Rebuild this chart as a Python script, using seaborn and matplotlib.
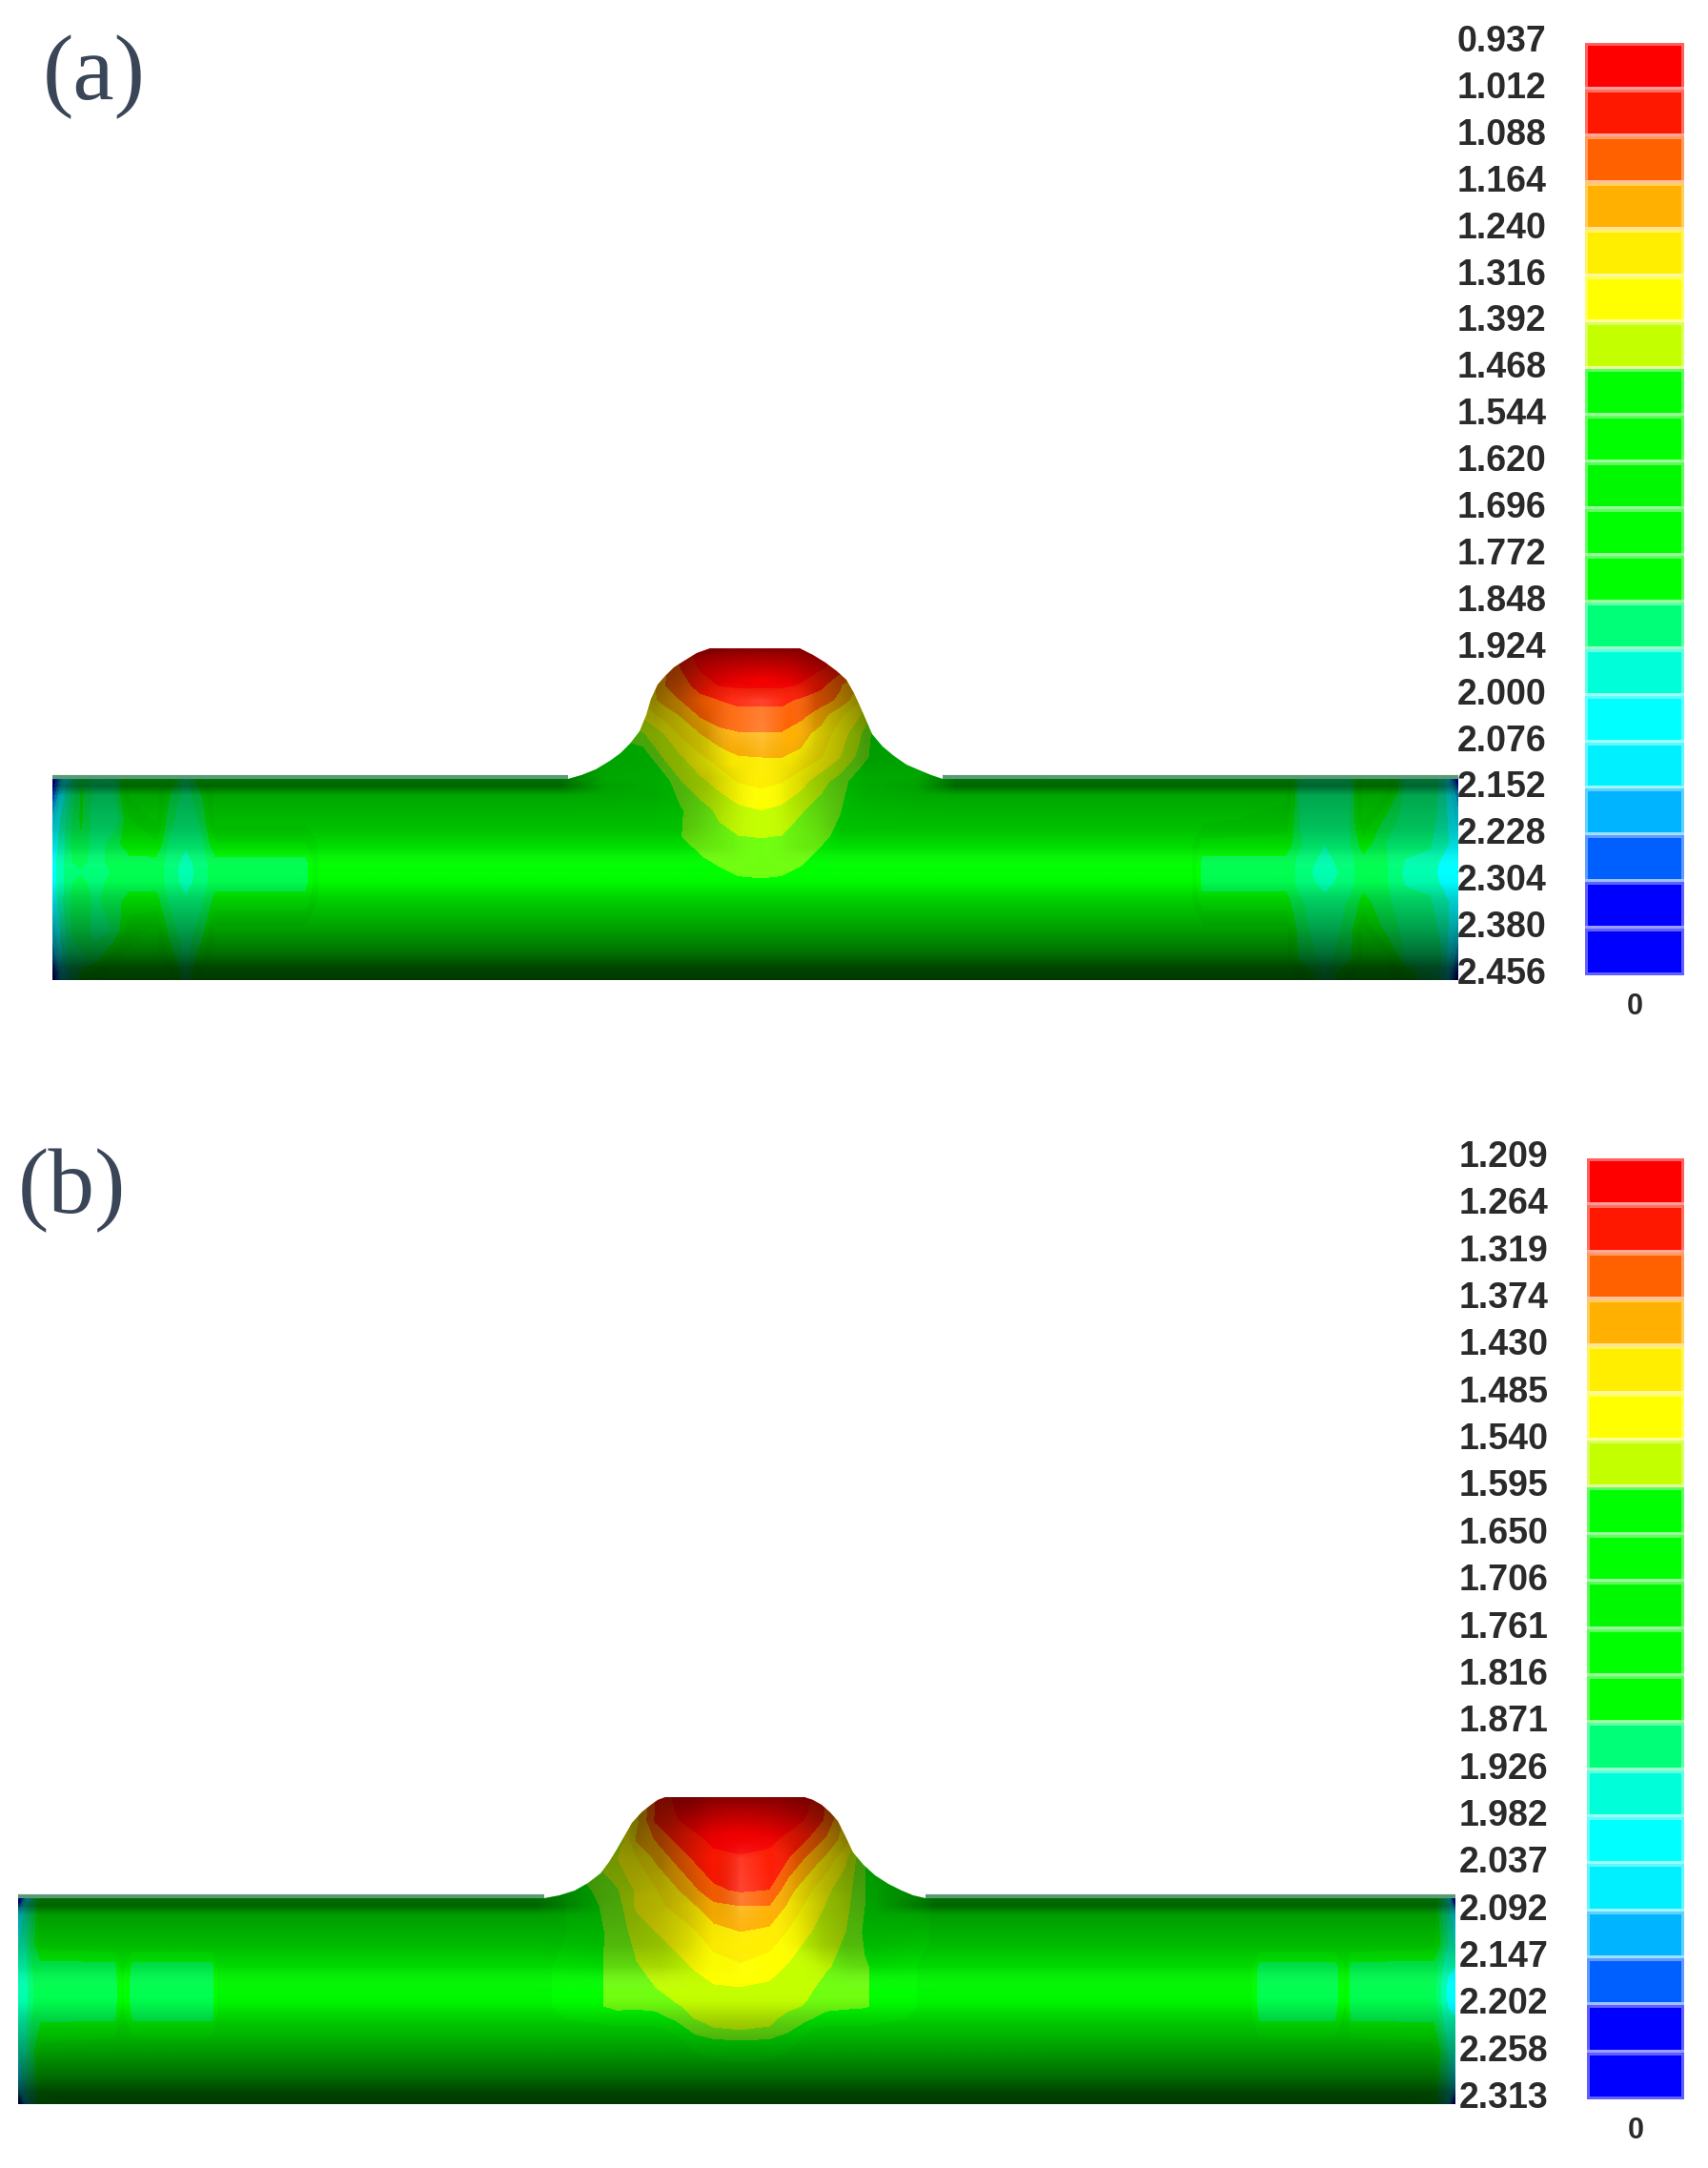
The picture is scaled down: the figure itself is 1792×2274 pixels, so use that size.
'''
    thickness contour plots of a tube with a bump, panels (a) and (b)
'''
import numpy as np
import seaborn as sns
import matplotlib
matplotlib.use('Agg')
import matplotlib.pyplot as plt
from matplotlib.colors import ListedColormap, LinearSegmentedColormap, Normalize
from matplotlib.image import NonUniformImage
from matplotlib.patches import Polygon
from matplotlib.transforms import ScaledTranslation

# colour bands, top of the legend to the bottom
bands = ['#FF0000', '#FF1800', '#FF6000', '#FFB000', '#FFEE00', '#FFFF00', '#C4FF00',
         '#00FF00', '#00FF00', '#00F800', '#00FF00', '#00FF00', '#00FF78', '#00FFD8',
         '#00FFFF', '#00F0FF', '#00B4FF', '#0060FF', '#0000FF', '#0000FF']
# the same bands as they look on the rendered surface
surface_bands = list(bands)
surface_bands[7] = '#70FF10'
surface_bands[11] = '#00FF50'
surface_bands[13] = '#00FFB0'

labels_a = [0.937, 1.012, 1.088, 1.164, 1.240, 1.316, 1.392, 1.468, 1.544, 1.620, 1.696,
            1.772, 1.848, 1.924, 2.000, 2.076, 2.152, 2.228, 2.304, 2.380, 2.456]
labels_b = [1.209, 1.264, 1.319, 1.374, 1.430, 1.485, 1.540, 1.595, 1.650, 1.706, 1.761,
            1.816, 1.871, 1.926, 1.982, 2.037, 2.092, 2.147, 2.202, 2.258, 2.313]

# outline of the tube and the bump
outline_x_a = [55, 596, 610, 625, 640, 651, 661, 671, 678, 683, 690, 697, 707, 718, 731, 745,
               839, 853, 866, 878, 888, 896, 902, 909, 915, 926, 938, 951, 965, 977, 989, 1530, 1530, 55]
outline_y_a = [817, 817, 813, 807, 798, 790, 780, 767, 750, 733, 718, 710, 700, 693, 685, 680,
               680, 687, 695, 704, 713, 727, 740, 756, 770, 783, 793, 802, 808, 813, 817, 817, 1028, 1028]
outline_x_b = [19, 571, 587, 603, 617, 630, 639, 647, 655, 663, 673, 683, 690, 698,
               844, 853, 862, 871, 879, 887, 895, 906, 918, 932, 946, 958, 971, 1527, 1527, 19]
outline_y_b = [1991, 1991, 1988, 1983, 1975, 1965, 1953, 1940, 1926, 1912, 1901, 1893, 1888, 1885,
               1885, 1888, 1893, 1901, 1910, 1926, 1943, 1956, 1967, 1976, 1983, 1988, 1991, 1991, 2207, 2207]

# field values on the bump, panel (a)
bump_x_a = [590, 674, 694, 714, 734, 754, 774, 799, 821, 841, 862, 882, 902, 922, 995]
bump_y_a = [680, 700, 720, 735, 750, 770, 795, 820, 850, 878, 900, 920, 940, 970]
bump_z_a = [
    [1.60, 1.30, 1.15, 1.05, 0.97, 0.95, 0.95, 0.95, 0.95, 0.95, 0.97, 1.05, 1.15, 1.30, 1.60],
    [1.60, 1.40, 1.20, 1.08, 1.00, 0.97, 0.96, 0.96, 0.96, 0.97, 1.00, 1.05, 1.15, 1.35, 1.60],
    [1.60, 1.35, 1.17, 1.13, 1.05, 1.01, 1.00, 1.00, 1.00, 1.02, 1.07, 1.155, 1.25, 1.40, 1.60],
    [1.60, 1.30, 1.22, 1.16, 1.12, 1.088, 1.07, 1.07, 1.07, 1.10, 1.13, 1.18, 1.30, 1.50, 1.60],
    [1.60, 1.37, 1.29, 1.23, 1.15, 1.11, 1.11, 1.11, 1.11, 1.14, 1.20, 1.30, 1.38, 1.50, 1.60],
    [1.60, 1.475, 1.40, 1.30, 1.24, 1.19, 1.17, 1.17, 1.17, 1.21, 1.27, 1.35, 1.45, 1.60, 1.60],
    [1.60, 1.60, 1.47, 1.40, 1.33, 1.28, 1.245, 1.24, 1.24, 1.26, 1.31, 1.39, 1.49, 1.60, 1.60],
    [1.60, 1.60, 1.60, 1.47, 1.41, 1.36, 1.31, 1.29, 1.31, 1.36, 1.44, 1.50, 1.60, 1.60, 1.60],
    [1.60, 1.60, 1.60, 1.55, 1.50, 1.45, 1.41, 1.39, 1.41, 1.46, 1.50, 1.54, 1.60, 1.60, 1.60],
    [1.60, 1.60, 1.58, 1.545, 1.51, 1.49, 1.47, 1.465, 1.47, 1.50, 1.53, 1.56, 1.60, 1.60, 1.60],
    [1.60, 1.60, 1.60, 1.58, 1.55, 1.52, 1.50, 1.50, 1.51, 1.53, 1.56, 1.59, 1.60, 1.60, 1.60],
    [1.60, 1.60, 1.60, 1.60, 1.60, 1.57, 1.545, 1.54, 1.545, 1.56, 1.59, 1.60, 1.60, 1.60, 1.60],
    [1.60, 1.60, 1.60, 1.60, 1.60, 1.60, 1.59, 1.58, 1.59, 1.60, 1.60, 1.60, 1.60, 1.60, 1.60],
    [1.60, 1.60, 1.60, 1.60, 1.60, 1.60, 1.60, 1.60, 1.60, 1.60, 1.60, 1.60, 1.60, 1.60, 1.60],
]

# field values at the tube ends, panel (a)
end_y_a = [817, 830, 860, 885, 905, 915, 925, 945, 975, 1005, 1020, 1028]
left_x_a = [55, 65, 75, 85, 100, 120, 135, 165, 178, 195, 212, 225, 260, 320, 335]
left_z_a = [
    [2.40, 2.10, 1.93, 1.80, 1.88, 1.88, 1.60, 1.60, 1.60, 1.88, 1.60, 1.60, 1.60, 1.60, 1.60],
    [2.30, 2.05, 1.90, 1.75, 1.88, 1.86, 1.60, 1.60, 1.75, 1.89, 1.75, 1.60, 1.60, 1.60, 1.60],
    [2.10, 1.96, 1.85, 1.75, 1.89, 1.89, 1.70, 1.60, 1.82, 1.90, 1.82, 1.60, 1.60, 1.60, 1.60],
    [2.05, 1.95, 1.83, 1.78, 1.89, 1.80, 1.72, 1.70, 1.86, 1.91, 1.86, 1.70, 1.70, 1.70, 1.60],
    [2.03, 1.94, 1.85, 1.82, 1.88, 1.81, 1.80, 1.80, 1.88, 1.95, 1.88, 1.80, 1.80, 1.80, 1.60],
    [2.03, 1.94, 1.85, 1.85, 1.92, 1.82, 1.80, 1.80, 1.88, 1.96, 1.88, 1.80, 1.80, 1.80, 1.60],
    [2.03, 1.94, 1.85, 1.82, 1.88, 1.81, 1.80, 1.80, 1.88, 1.95, 1.88, 1.80, 1.80, 1.80, 1.60],
    [2.05, 1.93, 1.83, 1.80, 1.86, 1.80, 1.74, 1.74, 1.86, 1.91, 1.86, 1.74, 1.74, 1.74, 1.60],
    [2.10, 1.96, 1.84, 1.78, 1.88, 1.84, 1.65, 1.60, 1.80, 1.90, 1.80, 1.60, 1.60, 1.60, 1.60],
    [2.20, 2.00, 1.88, 1.86, 1.80, 1.65, 1.60, 1.60, 1.70, 1.87, 1.70, 1.60, 1.60, 1.60, 1.60],
    [2.35, 2.05, 1.90, 1.75, 1.65, 1.60, 1.60, 1.60, 1.60, 1.85, 1.60, 1.60, 1.60, 1.60, 1.60],
    [2.40, 2.05, 1.90, 1.75, 1.65, 1.60, 1.60, 1.60, 1.60, 1.85, 1.60, 1.60, 1.60, 1.60, 1.60],
]
right_x_a = [1250, 1262, 1350, 1365, 1390, 1415, 1430, 1455, 1475, 1500, 1515, 1530]
right_z_a = [
    [1.60, 1.60, 1.60, 1.87, 1.88, 1.87, 1.60, 1.60, 1.87, 1.88, 1.95, 2.40],
    [1.60, 1.60, 1.60, 1.87, 1.88, 1.87, 1.60, 1.60, 1.87, 1.88, 1.95, 2.20],
    [1.60, 1.60, 1.65, 1.86, 1.89, 1.86, 1.60, 1.80, 1.88, 1.89, 1.96, 2.10],
    [1.60, 1.72, 1.72, 1.84, 1.92, 1.86, 1.72, 1.85, 1.90, 1.91, 1.97, 2.05],
    [1.60, 1.80, 1.80, 1.88, 1.95, 1.88, 1.80, 1.84, 1.93, 1.95, 2.02, 2.05],
    [1.60, 1.80, 1.80, 1.88, 1.97, 1.88, 1.80, 1.84, 1.94, 1.96, 2.03, 2.08],
    [1.60, 1.80, 1.80, 1.88, 1.95, 1.88, 1.80, 1.84, 1.93, 1.95, 2.02, 2.05],
    [1.60, 1.74, 1.74, 1.84, 1.90, 1.84, 1.74, 1.83, 1.90, 1.91, 1.97, 2.05],
    [1.60, 1.60, 1.60, 1.83, 1.88, 1.83, 1.60, 1.80, 1.87, 1.88, 1.95, 2.10],
    [1.60, 1.60, 1.60, 1.80, 1.87, 1.80, 1.60, 1.60, 1.85, 1.87, 1.93, 2.20],
    [1.60, 1.60, 1.60, 1.65, 1.86, 1.65, 1.60, 1.60, 1.70, 1.86, 1.95, 2.35],
    [1.60, 1.60, 1.60, 1.65, 1.86, 1.65, 1.60, 1.60, 1.70, 1.86, 1.95, 2.40],
]

# field values on the bump, panel (b)
bump_x_b = [565, 647, 667, 687, 708, 728, 748, 777, 808, 828, 848, 868, 888, 908, 975]
bump_y_b = [1885, 1910, 1930, 1950, 1983, 2000, 2027, 2063, 2085, 2105, 2118, 2130, 2145, 2170]
bump_z_b = [
    [1.70, 1.60, 1.45, 1.32, 1.25, 1.23, 1.22, 1.22, 1.22, 1.23, 1.25, 1.32, 1.45, 1.60, 1.70],
    [1.70, 1.60, 1.45, 1.31, 1.27, 1.24, 1.23, 1.22, 1.23, 1.24, 1.27, 1.33, 1.45, 1.60, 1.70],
    [1.70, 1.60, 1.42, 1.37, 1.31, 1.28, 1.25, 1.24, 1.25, 1.28, 1.32, 1.385, 1.46, 1.60, 1.70],
    [1.70, 1.54, 1.49, 1.42, 1.36, 1.31, 1.28, 1.27, 1.28, 1.319, 1.385, 1.445, 1.53, 1.65, 1.70],
    [1.75, 1.60, 1.53, 1.49, 1.44, 1.385, 1.33, 1.31, 1.32, 1.41, 1.47, 1.53, 1.57, 1.65, 1.70],
    [1.75, 1.62, 1.53, 1.50, 1.47, 1.435, 1.39, 1.374, 1.375, 1.44, 1.50, 1.545, 1.58, 1.65, 1.70],
    [1.75, 1.63, 1.57, 1.54, 1.52, 1.49, 1.45, 1.43, 1.445, 1.49, 1.535, 1.56, 1.595, 1.66, 1.70],
    [1.72, 1.635, 1.60, 1.575, 1.555, 1.535, 1.51, 1.49, 1.515, 1.545, 1.57, 1.59, 1.61, 1.645, 1.72],
    [1.72, 1.635, 1.62, 1.595, 1.575, 1.56, 1.545, 1.54, 1.55, 1.57, 1.585, 1.61, 1.63, 1.645, 1.72],
    [1.72, 1.635, 1.64, 1.63, 1.60, 1.585, 1.575, 1.57, 1.575, 1.585, 1.60, 1.63, 1.64, 1.645, 1.72],
    [1.72, 1.68, 1.68, 1.68, 1.64, 1.595, 1.58, 1.575, 1.585, 1.61, 1.64, 1.68, 1.68, 1.68, 1.72],
    [1.72, 1.72, 1.72, 1.72, 1.70, 1.63, 1.60, 1.595, 1.60, 1.64, 1.70, 1.72, 1.72, 1.72, 1.72],
    [1.72, 1.72, 1.72, 1.72, 1.72, 1.70, 1.68, 1.67, 1.68, 1.70, 1.72, 1.72, 1.72, 1.72, 1.72],
    [1.72, 1.72, 1.72, 1.72, 1.72, 1.72, 1.72, 1.72, 1.72, 1.72, 1.72, 1.72, 1.72, 1.72, 1.72],
]

# field values at the tube ends, panel (b)
end_y_b = [1991, 2005, 2040, 2063, 2080, 2090, 2100, 2115, 2150, 2190, 2208]
left_x_b = [19, 27, 35, 42, 120, 128, 140, 222, 230]
left_z_b = [
    [2.31, 2.05, 1.88, 1.75, 1.72, 1.72, 1.72, 1.72, 1.72],
    [2.05, 1.95, 1.85, 1.74, 1.72, 1.72, 1.72, 1.72, 1.72],
    [1.98, 1.93, 1.82, 1.74, 1.72, 1.72, 1.72, 1.72, 1.72],
    [1.96, 1.93, 1.85, 1.84, 1.84, 1.72, 1.84, 1.84, 1.72],
    [1.95, 1.94, 1.87, 1.84, 1.84, 1.75, 1.84, 1.84, 1.72],
    [1.97, 1.94, 1.87, 1.84, 1.84, 1.75, 1.84, 1.84, 1.72],
    [1.95, 1.94, 1.87, 1.84, 1.84, 1.75, 1.84, 1.84, 1.72],
    [1.96, 1.93, 1.85, 1.83, 1.83, 1.72, 1.83, 1.83, 1.72],
    [1.98, 1.93, 1.82, 1.74, 1.72, 1.72, 1.72, 1.72, 1.72],
    [2.05, 1.95, 1.85, 1.75, 1.72, 1.72, 1.72, 1.72, 1.72],
    [2.31, 2.05, 1.88, 1.78, 1.72, 1.72, 1.72, 1.72, 1.72],
]
right_x_b = [1310, 1322, 1400, 1412, 1418, 1505, 1512, 1520, 1527]
right_z_b = [
    [1.72, 1.72, 1.72, 1.72, 1.72, 1.72, 1.85, 2.00, 2.31],
    [1.72, 1.72, 1.72, 1.72, 1.72, 1.74, 1.85, 1.95, 2.05],
    [1.72, 1.72, 1.72, 1.72, 1.72, 1.74, 1.82, 1.93, 1.98],
    [1.72, 1.84, 1.84, 1.75, 1.84, 1.84, 1.90, 1.97, 1.98],
    [1.72, 1.84, 1.84, 1.75, 1.84, 1.84, 1.92, 1.99, 2.00],
    [1.72, 1.84, 1.84, 1.75, 1.84, 1.84, 1.92, 2.00, 2.02],
    [1.72, 1.84, 1.84, 1.75, 1.84, 1.84, 1.92, 1.99, 2.00],
    [1.72, 1.83, 1.83, 1.72, 1.83, 1.83, 1.90, 1.97, 1.98],
    [1.72, 1.72, 1.72, 1.72, 1.72, 1.74, 1.82, 1.93, 1.98],
    [1.72, 1.72, 1.72, 1.72, 1.72, 1.75, 1.85, 1.95, 2.05],
    [1.72, 1.72, 1.72, 1.72, 1.72, 1.78, 1.88, 2.05, 2.31],
]

# surface lighting: below zero darkens, above zero whitens
light_y_a = [680, 695, 715, 735, 770, 800, 817, 825, 835, 870, 890, 913, 925, 943, 973, 1000, 1015, 1028]
tube_light_a = [-0.55, -0.55, -0.55, -0.55, -0.55, -0.55, -0.55, -0.60, -0.35, -0.25, -0.13,
                0.0, -0.02, -0.18, -0.36, -0.56, -0.72, -0.78]
light_x_a = [634, 687, 714, 741, 768, 799, 828, 855, 882, 908, 962]
bump_light_a = [
    [-0.50, -0.55, -0.55, -0.55, -0.50, -0.48, -0.50, -0.55, -0.55, -0.55, -0.50],
    [-0.50, -0.55, -0.50, -0.35, -0.30, -0.28, -0.30, -0.40, -0.55, -0.55, -0.50],
    [-0.45, -0.50, -0.40, -0.22, -0.10, -0.03, -0.10, -0.25, -0.40, -0.50, -0.45],
    [-0.42, -0.45, -0.30, -0.10, 0.10, 0.18, 0.05, -0.20, -0.35, -0.50, -0.42],
    [-0.38, -0.35, -0.30, -0.20, 0.10, 0.22, 0.00, -0.15, -0.30, -0.40, -0.38],
    [-0.36, -0.35, -0.30, -0.20, -0.03, 0.05, -0.05, -0.20, -0.30, -0.38, -0.36],
    [-0.35, -0.33, -0.30, -0.25, -0.10, 0.00, -0.10, -0.22, -0.30, -0.33, -0.35],
    [-0.38, -0.33, -0.30, -0.24, -0.10, 0.00, -0.10, -0.21, -0.29, -0.33, -0.38],
    [-0.34, -0.33, -0.30, -0.22, -0.10, 0.00, -0.10, -0.20, -0.28, -0.32, -0.34],
    [-0.25, -0.25, -0.25, -0.15, -0.05, 0.00, -0.05, -0.13, -0.25, -0.25, -0.25],
    [-0.13, -0.13, -0.13, -0.10, -0.05, 0.00, -0.05, -0.10, -0.13, -0.13, -0.13],
]

light_y_b = [1885, 1900, 1925, 1950, 1983, 1991, 1999, 2009, 2040, 2063, 2090, 2100, 2120, 2150, 2178, 2195, 2208]
tube_light_b = [-0.55, -0.55, -0.55, -0.55, -0.55, -0.55, -0.60, -0.37, -0.25, -0.13,
                0.0, -0.02, -0.18, -0.36, -0.56, -0.72, -0.78]
light_x_b = [634, 667, 694, 721, 748, 777, 808, 835, 862, 888, 915]
bump_light_b = [
    [-0.50, -0.55, -0.55, -0.55, -0.50, -0.48, -0.50, -0.52, -0.55, -0.55, -0.50],
    [-0.50, -0.55, -0.50, -0.45, -0.33, -0.30, -0.33, -0.40, -0.50, -0.55, -0.50],
    [-0.45, -0.50, -0.40, -0.25, -0.10, -0.05, -0.10, -0.20, -0.35, -0.50, -0.45],
    [-0.42, -0.42, -0.38, -0.20, -0.02, 0.15, 0.02, -0.15, -0.30, -0.42, -0.42],
    [-0.38, -0.36, -0.32, -0.22, -0.05, 0.20, 0.05, -0.12, -0.28, -0.36, -0.38],
    [-0.38, -0.34, -0.30, -0.22, -0.05, 0.20, 0.05, -0.12, -0.26, -0.34, -0.38],
    [-0.36, -0.33, -0.30, -0.20, -0.05, 0.18, 0.05, -0.10, -0.25, -0.33, -0.36],
    [-0.35, -0.33, -0.28, -0.20, -0.05, 0.12, 0.03, -0.10, -0.25, -0.32, -0.35],
    [-0.28, -0.28, -0.25, -0.15, -0.02, 0.02, 0.00, -0.05, -0.20, -0.28, -0.28],
    [-0.16, -0.16, -0.15, -0.08, -0.02, 0.05, 0.00, 0.00, -0.05, -0.14, -0.16],
]

sns.set_theme(style='white')
plt.rcParams['font.family'] = ['Liberation Sans', 'DejaVu Sans']

W, H = 1792, 2274
fig = plt.figure(figsize=(W / 100, H / 100), dpi=100)
ax = fig.add_axes([0, 0, 1, 1])
ax.set_xlim(0, W)
ax.set_ylim(H, 0)
ax.axis('off')

light_cmap = LinearSegmentedColormap.from_list(
    'light', [(0.0, (0, 0, 0, 1)), (0.5, (0, 0, 0, 0)), (0.5, (1, 1, 1, 0)), (1.0, (1, 1, 1, 1))])


def draw_tube(outline_x, outline_y, levels, base, bump, ends, light):
    shape = Polygon(np.column_stack([outline_x, outline_y]), closed=True, fc='none', ec='none')
    ax.add_patch(shape)
    x0, x1 = min(outline_x), max(outline_x)
    y1 = max(outline_y)
    y0 = outline_y[0]
    # plain tube first, then the tables of values on top of it
    parts = [([x0, x1], [y0, y1], [[base, base], [base, base]])]
    parts += [bump] + ends
    for px, py, pz in parts:
        cs = ax.contourf(px, py, pz, levels=levels, colors=surface_bands, zorder=2)
        cs.set_clip_path(shape)

    # lighting over the whole surface
    ly, tube_light, lx, bump_light, edge_l, edge_r = light
    tube_col = np.array(tube_light)
    n = len(bump_light)
    rows = np.tile(tube_col[:, None], (1, len(lx)))
    rows[:n, :] = np.array(bump_light)
    grid = np.column_stack([tube_col, tube_col, rows, tube_col, tube_col])
    gx = [x0, edge_l] + lx + [edge_r, x1]
    im = NonUniformImage(ax, interpolation='bilinear', cmap=light_cmap, norm=Normalize(-1, 1), zorder=3)
    im.set_data(gx, ly, grid)
    ax.add_image(im)
    im.set_clip_path(shape)
    ax.set_xlim(0, W)
    ax.set_ylim(H, 0)

    # pale line along the top of the straight tube
    top = len(outline_x) - 2
    for seg in (slice(0, 2), slice(top - 2, top)):
        ax.plot(outline_x[seg], np.array(outline_y[seg]) - 2, color='#3C8A5E', alpha=0.85, lw=3,
                solid_capstyle='butt', zorder=4)


def draw_legend(box, labels):
    left, top, right, bottom = box
    cax = fig.add_axes([left / W, 1 - bottom / H, (right - left) / W, (bottom - top) / H])
    sns.heatmap(np.arange(20).reshape(-1, 1), ax=cax, cmap=ListedColormap(bands), cbar=False,
                xticklabels=False, yticklabels=False, linewidths=3, linecolor=(1, 1, 1, 0.38))
    cax.set_yticks(np.arange(21))
    cax.set_yticklabels(['%.3f' % v for v in labels], fontsize=27, fontweight='bold', color='#2A2A2A')
    cax.set_xticks([0.5])
    cax.set_xticklabels(['0'], fontsize=22, fontweight='bold', color='#2A2A2A')
    cax.tick_params(axis='y', length=0, pad=29, rotation=0)
    cax.tick_params(axis='x', length=0, pad=13)
    lift = ScaledTranslation(0, 5 / 100, fig.dpi_scale_trans)
    for lab in cax.get_yticklabels():
        lab.set_transform(lab.get_transform() + lift)
    cax.set_frame_on(False)


draw_tube(outline_x_a, outline_y_a, labels_a, 1.60,
          (bump_x_a, bump_y_a, bump_z_a),
          [(left_x_a, end_y_a, left_z_a), (right_x_a, end_y_a, right_z_a)],
          (light_y_a, tube_light_a, light_x_a, bump_light_a, 587, 1002))
draw_tube(outline_x_b, outline_y_b, labels_b, 1.72,
          (bump_x_b, bump_y_b, bump_z_b),
          [(left_x_b, end_y_b, left_z_b), (right_x_b, end_y_b, right_z_b)],
          (light_y_b, tube_light_b, light_x_b, bump_light_b, 560, 982))

draw_legend((1663, 45, 1767, 1023), labels_a)
draw_legend((1665, 1215, 1767, 2202), labels_b)

ax.text(45, 104, '(a)', fontsize=70, family='Liberation Serif', color='#3A4658', va='baseline')
ax.text(19, 1272, '(b)', fontsize=70, family='Liberation Serif', color='#3A4658', va='baseline')

fig.savefig('out.png', dpi=100, facecolor='white')
